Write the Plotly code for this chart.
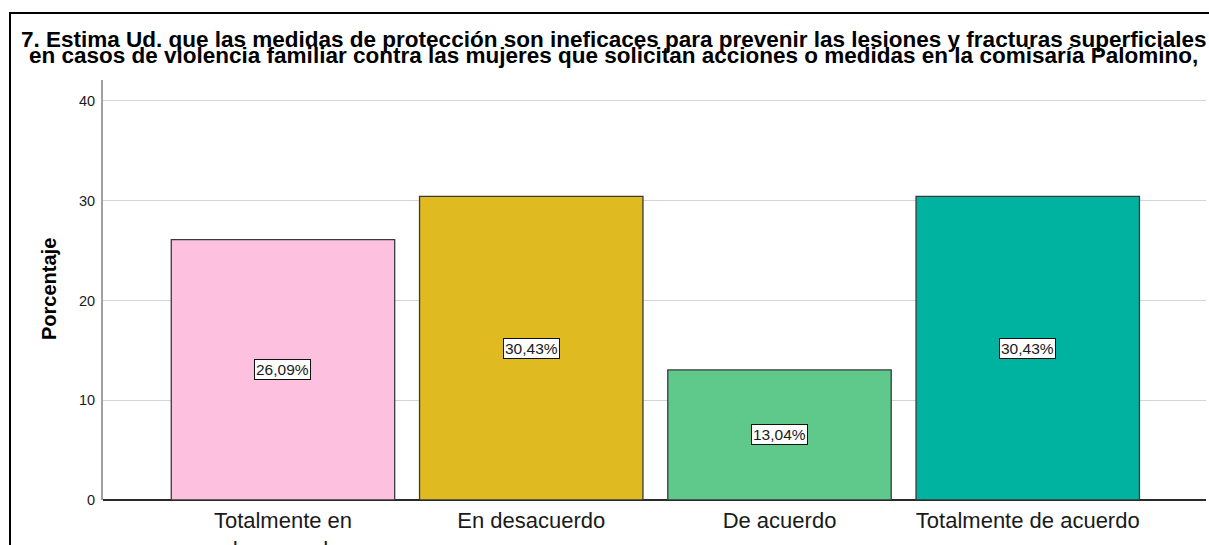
import plotly.graph_objects as go

categories = ["Totalmente en desacuerdo", "En desacuerdo", "De acuerdo", "Totalmente de acuerdo"]
tick_labels = ["Totalmente en<br>desacuerdo", "En desacuerdo", "De acuerdo", "Totalmente de acuerdo"]
percentages = [26.09, 30.43, 13.04, 30.43]
value_labels = ["26,09%", "30,43%", "13,04%", "30,43%"]
bar_colors = ["#FEC0DF", "#E0BA21", "#5FC98B", "#00B2A0"]
title_lines = [
    "7. Estima Ud. que las medidas de protección son ineficaces para prevenir las lesiones y fracturas superficiales",
    "en casos de violencia familiar contra las mujeres que solicitan acciones o medidas en la comisaría Palomino,",
]
y_ticks = [0, 10, 20, 30, 40]

FONT = "Liberation Sans, Arial, sans-serif"
W, H = 1209, 545
ML, MR, MT, MB = 103, 3, 80, 45
PW, PH = W - ML - MR, H - MT - MB


def px_x(x):
    return (x - ML) / PW


def px_y(y):
    return (H - MB - y) / PH


x_idx = list(range(len(categories)))

fig = go.Figure()
fig.add_trace(go.Bar(
    x=x_idx,
    y=percentages,
    marker=dict(color=bar_colors, line=dict(color="#3a3a3a", width=1.3)),
    width=0.9,
    hoverinfo="skip",
))

annotations = []
for i, (v, lab) in enumerate(zip(percentages, value_labels)):
    annotations.append(dict(
        x=i, y=v / 2, xref="x", yref="y", text=lab, showarrow=False,
        font=dict(family=FONT, size=15.5, color="#1a1a1a"),
        bgcolor="white", bordercolor="#111", borderwidth=1, borderpad=1,
    ))

title_y = [39.5, 55.5]
for line, ty in zip(title_lines, title_y):
    annotations.append(dict(
        x=px_x(613.5), y=px_y(ty), xref="paper", yref="paper", text="<b>" + line + "</b>",
        showarrow=False, xanchor="center", yanchor="middle",
        font=dict(family=FONT, size=22.5, color="black"),
    ))

annotations.append(dict(
    x=px_x(49), y=px_y(289), xref="paper", yref="paper", text="<b>Porcentaje</b>",
    showarrow=False, xanchor="center", yanchor="middle", textangle=-90,
    font=dict(family=FONT, size=20, color="black"),
))

fig.update_layout(
    width=W, height=H,
    margin=dict(l=ML, r=MR, t=MT, b=MB, pad=0, autoexpand=False),
    paper_bgcolor="white", plot_bgcolor="white",
    showlegend=False,
    annotations=annotations,
    shapes=[dict(
        type="rect", xref="paper", yref="paper",
        x0=px_x(10), x1=px_x(1260), y0=px_y(600), y1=px_y(13),
        line=dict(color="black", width=2), fillcolor="rgba(0,0,0,0)", layer="above",
    )],
    xaxis=dict(
        range=[-0.725, 3.718], tickmode="array", tickvals=x_idx, ticktext=tick_labels,
        showgrid=False, zeroline=False, showline=False, ticks="",
        ticklabelstandoff=5,
        tickfont=dict(family=FONT, size=22, color="#1a1a1a"),
        fixedrange=True, automargin=False,
    ),
    yaxis=dict(
        range=[0, 42.1], tickmode="array", tickvals=y_ticks,
        showgrid=True, gridcolor="#d4d4d4", gridwidth=1,
        zeroline=True, zerolinecolor="#2a2a2a", zerolinewidth=1.5,
        showline=True, linecolor="#a0a0a0", linewidth=2,
        ticks="", ticklabelstandoff=3,
        tickfont=dict(family=FONT, size=14.5, color="#1a1a1a"),
        fixedrange=True, automargin=False,
    ),
)

fig.write_html(
    "out.html",
    config={"displayModeBar": False},
    post_script="document.body.style.margin='0';document.body.style.padding='0';"
                "document.documentElement.style.overflow='hidden';",
)
